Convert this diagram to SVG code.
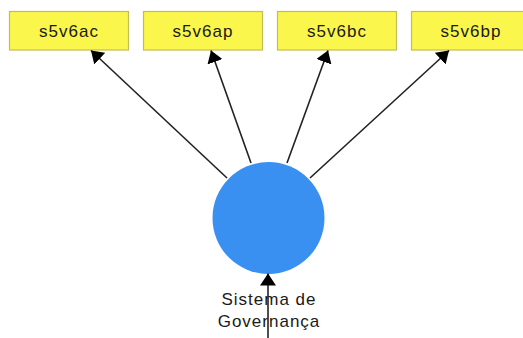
<svg xmlns="http://www.w3.org/2000/svg" width="523" height="338" viewBox="0 0 523 338">
  <style>
    .box { fill: #fbf64b; stroke: #c4bd55; stroke-width: 1.2; }
    .lbl { font-family: "Liberation Sans", Arial, sans-serif; font-size: 17px; letter-spacing: 1px; fill: #1a1a1a; text-anchor: middle; }
    .edge { stroke: #222; stroke-width: 1.6; fill: none; marker-end: url(#arrow); }
  </style>
  <defs>
    <marker id="arrow" viewBox="0 0 12 16" refX="12" refY="8" markerWidth="12" markerHeight="16" markerUnits="userSpaceOnUse" orient="auto">
      <path d="M0,0 L12,8 L0,16 Z" fill="#000"/>
    </marker>
  </defs>
  <rect width="523" height="338" fill="#fff"/>

  <g id="s5v6ac">
    <rect class="box" x="9.5" y="11.5" width="119" height="38.5"/>
    <text class="lbl" x="69" y="37">s5v6ac</text>
  </g>
  <g id="s5v6ap">
    <rect class="box" x="143.5" y="11.5" width="119" height="38.5"/>
    <text class="lbl" x="203" y="37">s5v6ap</text>
  </g>
  <g id="s5v6bc">
    <rect class="box" x="277.5" y="11.5" width="119" height="38.5"/>
    <text class="lbl" x="337" y="37">s5v6bc</text>
  </g>
  <g id="s5v6bp">
    <rect class="box" x="411.5" y="11.5" width="119" height="38.5"/>
    <text class="lbl" x="471" y="37">s5v6bp</text>
  </g>

  <g id="sistema-de-governanca">
    <circle cx="268.5" cy="218" r="56" fill="#3990f0"/>
    <text class="lbl" x="269" y="305">Sistema de</text>
    <text class="lbl" x="269" y="327">Governança</text>
  </g>

  <g id="connectors">
    <line class="edge" x1="227" y1="178" x2="91" y2="50.5"/>
    <line class="edge" x1="251" y1="163" x2="211" y2="50.5"/>
    <line class="edge" x1="287" y1="163" x2="328" y2="50.5"/>
    <line class="edge" x1="310" y1="178" x2="449" y2="50.5"/>
    <line class="edge" x1="268" y1="338" x2="268" y2="273.5"/>
  </g>
</svg>
